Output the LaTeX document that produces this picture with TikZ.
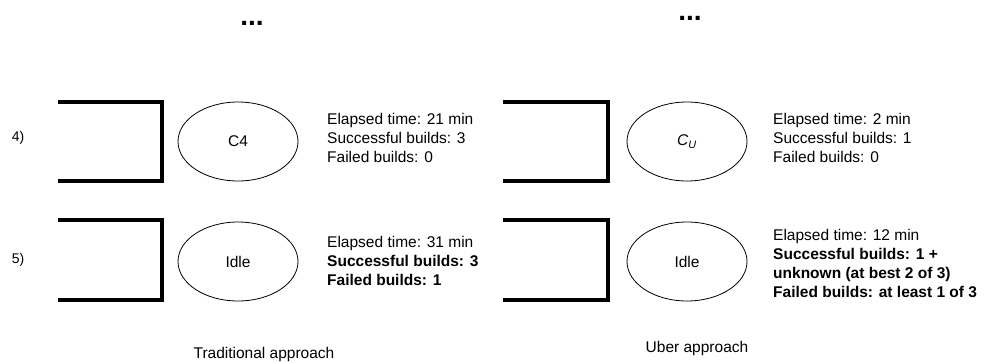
\documentclass[tikz,border=0pt]{standalone}
\usepackage{fontspec}
\setmainfont{Liberation Sans}
\usetikzlibrary{shapes.geometric}
\begin{document}
\begin{tikzpicture}[x=1pt,y=-1pt,
  slot/.style={line width=4pt},
  job/.style={draw, ellipse, line width=0.8pt, minimum width=120pt, minimum height=79pt, inner sep=0pt,
    font=\fontsize{15.5}{18}\selectfont},
  stats/.style={anchor=west, align=left, inner sep=0pt, font=\fontsize{15.5}{19}\selectfont},
  steplabel/.style={inner sep=0pt, font=\fontsize{14}{16}\selectfont},
  caption/.style={inner sep=0pt, font=\fontsize{15.5}{18}\selectfont},
  more/.style={anchor=base, inner sep=0pt, text height=5pt, text depth=0pt,
    font=\fontsize{28}{30}\selectfont\bfseries}]
\useasboundingbox (0,0) rectangle (984,362);

% continuation marks
\node[more] (dotsL) at (252,25.5) {...};
\node[more] (dotsR) at (690,20.5) {...};

% step labels
\node[steplabel] (s4) at (18,138) {4)};
\node[steplabel] (s5) at (18,260) {5)};

% traditional approach: slots
\draw[slot] (58,102) -- (162,102) -- (162,181) -- (58,181);
\draw[slot] (58,220) -- (162,220) -- (162,300) -- (58,300);
\node[job] (tc4) at (238,141.5) {C4};
\node[job] (tidle) at (238,261.5) {Idle};
\node[stats] (tst4) at (327,138) {Elapsed time: 21 min\\Successful builds: 3\\Failed builds: 0};
\node[stats] (tst5) at (327,261) {Elapsed time: 31 min\\\textbf{Successful builds: 3}\\\textbf{Failed builds: 1}};

% uber approach: slots
\draw[slot] (503,102) -- (608,102) -- (608,181) -- (503,181);
\draw[slot] (503,220) -- (608,220) -- (608,300) -- (503,300);
\node[job] (uc) at (687,141.5) {\itshape C\textsubscript{U}};
\node[job] (uidle) at (687,261.5) {Idle};
\node[stats] (ust4) at (773,138) {Elapsed time: 2 min\\Successful builds: 1\\Failed builds: 0};
\node[stats] (ust5) at (773,263.5) {Elapsed time: 12 min\\\textbf{Successful builds: 1 +}\\\textbf{unknown (at best 2 of 3)}\\\textbf{Failed builds: at least 1 of 3}};

% captions
\node[caption] (capT) at (264,354) {Traditional approach};
\node[caption] (capU) at (697,348) {Uber approach};
\end{tikzpicture}
\end{document}
